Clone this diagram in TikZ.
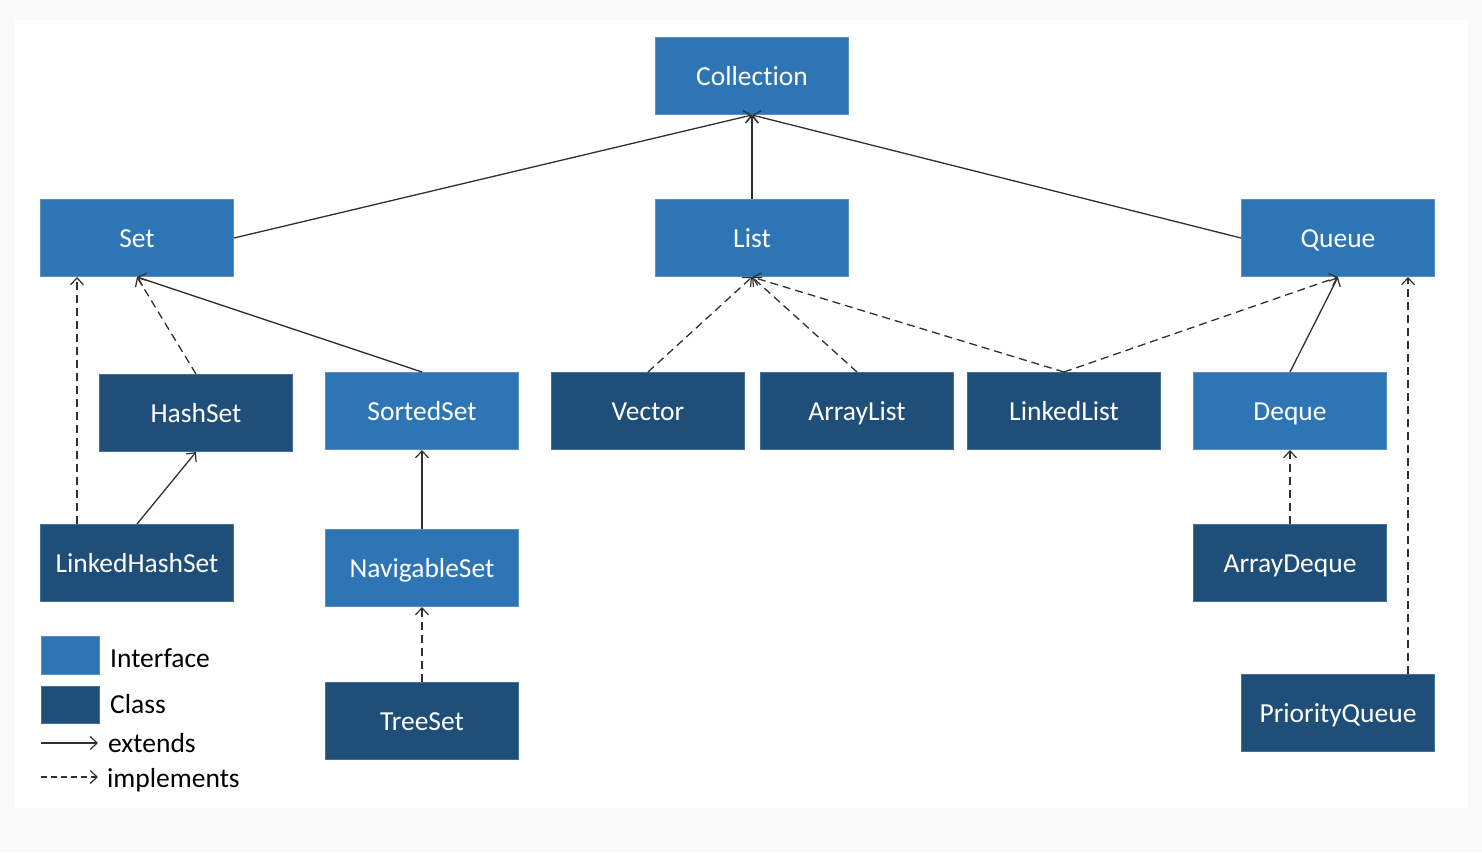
\documentclass[tikz,border=0pt]{standalone}
\usepackage{fontspec}
\setmainfont{Carlito}[Ligatures=NoCommon]
\usetikzlibrary{arrows.meta}
\definecolor{ifc}{HTML}{2E75B6}
\definecolor{cls}{HTML}{1F4E79}
\definecolor{ifcb}{HTML}{5B8FC4}
\definecolor{clsb}{HTML}{41719C}
\definecolor{outer}{HTML}{F9F9F9}
\definecolor{ln}{HTML}{303030}
\begin{document}
\begin{tikzpicture}[x=1pt,y=-1pt,
  box/.style={minimum width=193pt,minimum height=77pt,inner sep=0pt,text=white,
    text height=21pt,text depth=2pt,
    font=\fontsize{27.5}{33}\selectfont,line width=1pt},
  iface/.style={box,fill=ifc,draw=ifcb},
  klass/.style={box,fill=cls,draw=clsb},
  ext/.style={draw=ln,line width=1.3pt,-{Straight Barb[length=7pt,width=13pt,line width=1.2pt]}},
  impl/.style={ext,dash pattern=on 8pt off 5pt},
  lgtext/.style={anchor=west,inner sep=0pt,font=\fontsize{27.5}{33}\selectfont,text=black}]
\fill[outer] (0,0) rectangle (1482,852);
\fill[white] (15,20) rectangle (1468,808);
\useasboundingbox (0,0) rectangle (1482,852);
% nodes
\node[iface] (collection) at (752,76) {Collection};
\node[iface] (set) at (137,238) {Set};
\node[iface] (list) at (752,238) {List};
\node[iface] (queue) at (1338,238) {Queue};
\node[klass] (hashset) at (196,413) {HashSet};
\node[iface] (sortedset) at (422,411) {SortedSet};
\node[klass] (vector) at (648,411) {Vector};
\node[klass] (arraylist) at (857,411) {ArrayList};
\node[klass] (linkedlist) at (1064,411) {LinkedList};
\node[iface] (deque) at (1290,411) {Deque};
\node[klass] (lhs) at (137,563) {LinkedHashSet};
\node[iface] (navset) at (422,568) {NavigableSet};
\node[klass] (arraydeque) at (1290,563) {ArrayDeque};
\node[klass] (treeset) at (422,721) {TreeSet};
\node[klass] (pq) at (1338,713) {PriorityQueue};
% connectors
\draw[ext] (set.east) -- (collection.south);
\draw[ext] (list.north) -- (collection.south);
\draw[ext] (queue.west) -- (collection.south);
\draw[impl] (hashset.north) -- (set.south);
\draw[ext] (sortedset.north) -- (set.south);
\draw[impl] ([xshift=-60pt]lhs.north) -- ([xshift=-60pt]set.south);
\draw[ext] (lhs.north) -- (hashset.south);
\draw[ext] (navset.north) -- (sortedset.south);
\draw[impl] (treeset.north) -- (navset.south);
\draw[impl] (vector.north) -- (list.south);
\draw[impl] (arraylist.north) -- (list.south);
\draw[impl] (linkedlist.north) -- (list.south);
\draw[impl] (linkedlist.north) -- (queue.south);
\draw[ext] (deque.north) -- (queue.south);
\draw[impl] (arraydeque.north) -- (deque.south);
\draw[impl] ([xshift=70pt]pq.north) -- ([xshift=70pt]queue.south);
% legend
\node[fill=ifc,draw=ifcb,line width=1pt,minimum width=58pt,minimum height=38pt,inner sep=0pt] (lgi) at (70,655) {};
\node[fill=cls,draw=clsb,line width=1pt,minimum width=58pt,minimum height=37pt,inner sep=0pt] (lgc) at (70,704.5) {};
\node[lgtext] (lgit) at (110,658) {Interface};
\node[lgtext] (lgct) at (110,704) {Class};
\coordinate (e1) at (41,743);
\coordinate (e2) at (98,743);
\coordinate (i1) at (41,777);
\coordinate (i2) at (98,777);
\draw[ext,line width=1.1pt] (e1) -- (e2);
\draw[impl,line width=1.1pt,dash pattern=on 6pt off 4pt] (i1) -- (i2);
\node[lgtext] (lget) at (108,743) {extends};
\node[lgtext] (lgimt) at (107,780) {implements};
\end{tikzpicture}
\end{document}
